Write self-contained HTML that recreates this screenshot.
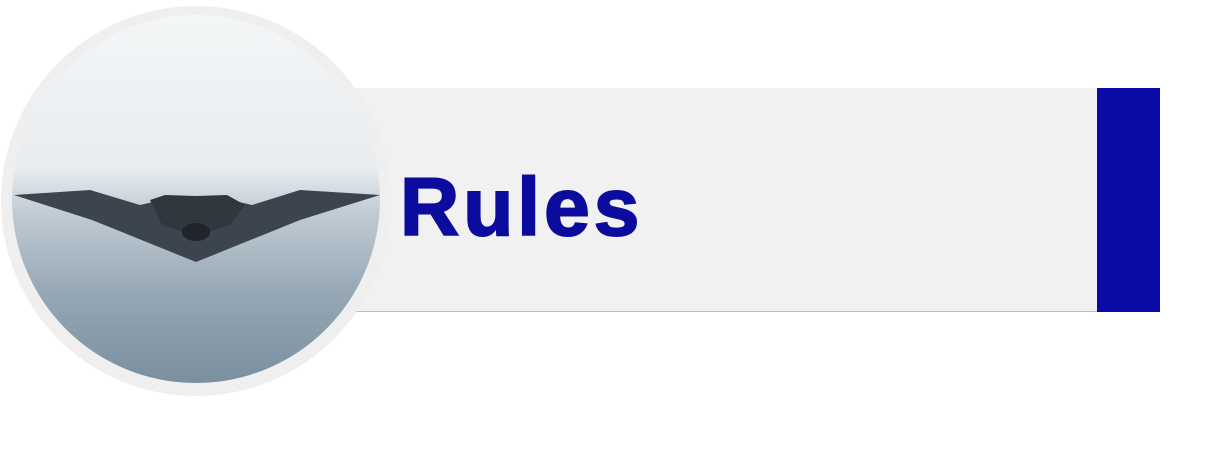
<!DOCTYPE html>
<html><head><style>
body{margin:0;width:1220px;height:452px;background:#fff;position:relative;overflow:hidden;font-family:"Liberation Sans",sans-serif}
.banner{position:absolute;left:350px;top:88px;width:747px;height:223px;background:#f1f1f1;border-bottom:1px solid #bcbcbc}
.bar{position:absolute;left:1097px;top:88px;width:63px;height:224px;background:#0a0ca5}
.t{position:absolute;left:400px;top:158px;font-size:82px;font-weight:bold;color:#0b0b9d;line-height:100px;letter-spacing:4px;-webkit-text-stroke:2px #0b0b9d}
svg{position:absolute;left:0;top:0}
</style></head><body>
<div class="banner"></div><div class="bar"></div>
<div class="t">Rules</div>
<svg width="420" height="420">
<defs>
<linearGradient id="sky" x1="0" y1="0" x2="0" y2="1">
<stop offset="0" stop-color="#f5f7f8"/>
<stop offset="0.4" stop-color="#e8ecef"/>
<stop offset="0.5" stop-color="#c2cdd5"/>
<stop offset="0.7" stop-color="#95a7b4"/>
<stop offset="1" stop-color="#6f8596"/>
</linearGradient>
<clipPath id="c"><circle cx="196" cy="199" r="184"/></clipPath>
</defs>
<circle cx="196" cy="201" r="195" fill="#efefef"/>
<g clip-path="url(#c)">
<rect x="0" y="0" width="420" height="420" fill="url(#sky)"/>
<polygon points="14,195 90,190 140,205 170,198 196,196 222,198 252,205 300,190 380,195 300,220 196,262 92,220" fill="#3c454e"/>
<polygon points="150,200 165,195 196,196 227,195 245,205 230,225 196,236 162,225" fill="#2f373f"/>
<ellipse cx="196" cy="232" rx="14" ry="9" fill="#1f252b"/>
</g>
</svg>
</body></html>
